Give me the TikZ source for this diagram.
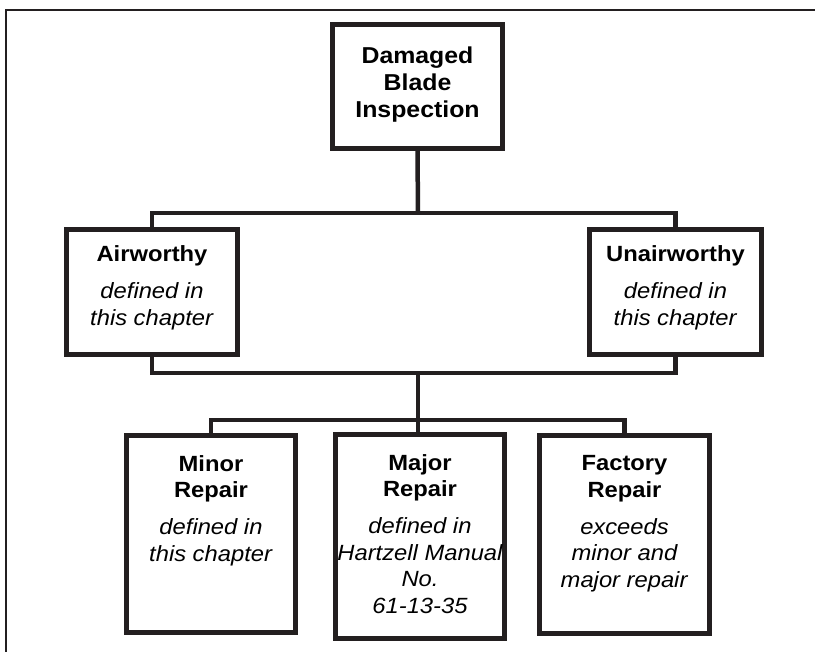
\documentclass[tikz,border=0pt]{standalone}
\usepackage{fontspec}
\setmainfont{Liberation Sans}[FakeStretch=1.08]
\definecolor{inchiostro}{HTML}{231F20}
% contenuto di una casella: testo allineato in alto
\newcommand{\dentro}[4]{\parbox[c][#2][t]{#1}{\centering\vspace*{#3}#4}}
\begin{document}
\begin{tikzpicture}[x=1pt, y=-1pt]

        \useasboundingbox (0,0) rectangle (815,652);

        % Stili per caselle e collegamenti
        \tikzset{
            casella/.style={draw=inchiostro, line width=5pt, inner sep=0pt, fill=white,
                text=black, font=\fontsize{22}{26.5}\selectfont},
            ramo/.style={draw=inchiostro, line width=4.5pt}
        }

        % Cornice: solo lato superiore e sinistro
        \draw[inchiostro, line width=2.5pt] (815,10) -- (6,10) -- (6,652);

        % Livello 1
        \node[casella, font=\fontsize{23}{27}\selectfont] (ispezione) at (417.5,86.5)
            {\dentro{170pt}{124pt}{22pt}{\textbf{Damaged\\Blade\\Inspection}}};

        % Livello 2
        \node[casella] (idoneo) at (152,292)
            {\dentro{171pt}{125pt}{16.5pt}{\textbf{Airworthy}\\[10.5pt]\textit{defined in\\this chapter}}};
        \node[casella] (nonidoneo) at (675.5,292)
            {\dentro{172pt}{125pt}{16.5pt}{\textbf{Unairworthy}\\[10.5pt]\textit{defined in\\this chapter}}};

        % Livello 3
        \node[casella] (minore) at (211,534)
            {\dentro{169pt}{197pt}{20pt}{\textbf{Minor\\Repair}\\[10.5pt]\textit{defined in\\this chapter}}};
        \node[casella] (maggiore) at (420,536.5)
            {\dentro{169pt}{204pt}{20pt}{\textbf{Major\\Repair}\\[10.5pt]\textit{defined in\\\makebox[0pt]{Hartzell~Manual}\\No.\\61-13-35}}};
        \node[casella] (fabbrica) at (624.5,534.5)
            {\dentro{170pt}{198pt}{20pt}{\textbf{Factory\\Repair}\\[10.5pt]\textit{exceeds\\minor and\\major repair}}};

        % Punti di diramazione
        \coordinate (bivio1) at (418,213);
        \coordinate (bivio2) at (418,373);
        \coordinate (bivio3) at (418,420);

        % Collegamenti
        \draw[ramo] (ispezione.south) -- (bivio1);
        \draw[ramo] (idoneo.north) |- (bivio1) -| (nonidoneo.north);
        \draw[ramo] (idoneo.south) |- (bivio2) -| (nonidoneo.south);
        \draw[ramo] (bivio2) -- (bivio3);
        \draw[ramo] (minore.north) |- (bivio3) -| (fabbrica.north);
        \draw[ramo] (bivio3) -- (bivio3 |- maggiore.north);

\end{tikzpicture}
\end{document}
